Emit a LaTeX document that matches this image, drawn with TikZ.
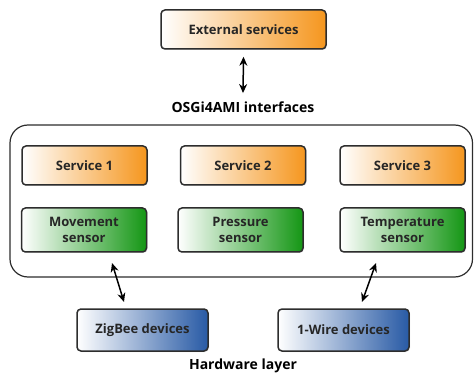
\documentclass[tikz,border=0pt]{standalone}
\usepackage{fontspec}
\setmainfont{Open Sans}
\usepackage{tikz}
\usetikzlibrary{arrows.meta,shadows}

\definecolor{svcorange}{RGB}{245,150,30}
\definecolor{sensgreen}{RGB}{20,150,20}
\definecolor{devblue}{RGB}{40,90,165}
\definecolor{edge}{RGB}{45,45,45}

\tikzset{
  box/.style={draw=edge, line width=1.5pt, rounded corners=4pt, minimum width=125pt,
    minimum height=39pt, align=center, text=black!85,
    font=\bfseries\fontsize{13}{15.5}\selectfont,
    drop shadow={shadow xshift=1pt, shadow yshift=-1pt, opacity=0.25}},
  svcbox/.style={box, left color=white, right color=svcorange},
  sensbox/.style={box, left color=white, right color=sensgreen, minimum height=44pt},
  devbox/.style={box, left color=white, right color=devblue, minimum width=131pt, minimum height=42pt},
  layerlabel/.style={font=\bfseries\fontsize{14}{16.5}\selectfont},
  link/.style={{Stealth[length=9pt,width=8pt]}-{Stealth[length=9pt,width=8pt]}, line width=1.5pt, black}
}

\begin{document}
\begin{tikzpicture}[x=1pt,y=-1pt]
\useasboundingbox (0,0) rectangle (474,374);
% middleware frame
\draw[edge, line width=1.2pt, rounded corners=18pt] (10,125) rectangle (472.5,277);

\node[svcbox, minimum width=165pt] (ext) at (243.5,29.5) {External services};
\node[layerlabel] (osgi) at (243,107) {OSGi4AMI interfaces};

\node[svcbox] (svc1) at (84.5,165.5) {Service 1};
\node[svcbox] (svc2) at (243,165.5) {Service 2};
\node[svcbox] (svc3) at (402.5,165.5) {Service 3};

\node[sensbox] (mov) at (84,230) {Movement\\sensor};
\node[sensbox] (pres) at (240.5,230) {Pressure\\sensor};
\node[sensbox] (temp) at (402.5,230) {Temperature\\sensor};

\node[devbox] (zig) at (142.5,330) {ZigBee devices};
\node[devbox] (wire) at (343.5,330) {1-Wire devices};
\node[layerlabel] (hw) at (243,366) {Hardware layer};

\coordinate (zigtop) at (112,263);
\coordinate (zigbot) at (124,302);
\coordinate (wiretop) at (376,263);
\coordinate (wirebot) at (362,302);

\draw[link] ([yshift=-7pt]ext.south) -- ([yshift=5pt]osgi.north);
\draw[link] (zigtop) -- (zigbot);
\draw[link] (wiretop) -- (wirebot);
\end{tikzpicture}
\end{document}
